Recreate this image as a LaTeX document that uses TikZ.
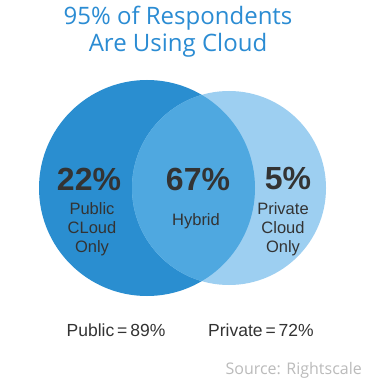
\documentclass[tikz,border=0pt]{standalone}
\usepackage{fontspec}
\setmainfont{Liberation Sans}
\newfontfamily\titlefont{Open Sans}
\usetikzlibrary{positioning}
\definecolor{TitleBlue}{HTML}{2B8CD3}
\definecolor{PubBlue}{HTML}{2A8ED0}
\definecolor{MixBlue}{HTML}{4FA8E0}
\definecolor{PrivBlue}{HTML}{9DCFF1}
\definecolor{Ink}{HTML}{333333}
\definecolor{Muted}{HTML}{BBBBBB}
\tikzset{
  bignum/.style={font=\fontsize{32}{34}\selectfont\bfseries,text=Ink,inner sep=0pt},
  tag/.style={font=\fontsize{16.5}{19}\selectfont,text=Ink,align=center,inner sep=0pt},
  total/.style={font=\fontsize{17.5}{20}\selectfont,text=Ink,inner sep=0pt},
  heading/.style={font=\titlefont\fontsize{24}{27}\selectfont,text=TitleBlue,align=center,inner sep=0pt}
}
\begin{document}
\begin{tikzpicture}[x=1pt,y=-1pt]
  \useasboundingbox[fill=white] (0,0) rectangle (369,387);
  % title
  \node[heading] (title) at (178,32) {95\% of Respondents\\Are Using Cloud};
  % circles
  \node[circle,fill=PubBlue,minimum size=216pt,inner sep=0pt] (pub) at (147,188) {};
  \node[circle,fill=PrivBlue,minimum size=194pt,inner sep=0pt] (priv) at (229,188) {};
  \begin{scope}
    \clip (pub.center) circle (108pt);
    \fill[MixBlue] (priv.center) circle (97pt);
  \end{scope}
  % figures
  \node[bignum] (pubnum) at (89,179) {22\%};
  \node[bignum] (mixnum) at (198,179) {67\%};
  \node[bignum] (privnum) at (288,179) {5\%};
  \node[tag] (publab) at (92,229) {Public\\CLoud\\Only};
  \node[tag] (mixlab) at (196,221) {Hybrid};
  \node[tag] (privlab) at (283,229) {Private\\Cloud\\Only};
  % totals
  \node[total] (pubtot) at (116,330) {Public\,=\,89\%};
  \node[total] (privtot) at (261,330) {Private\,=\,72\%};
  \node[font=\titlefont\fontsize{16}{19}\selectfont,text=Muted,anchor=east,inner sep=0pt] (src) at (362,370) {Source: Rightscale};
\end{tikzpicture}
\end{document}
